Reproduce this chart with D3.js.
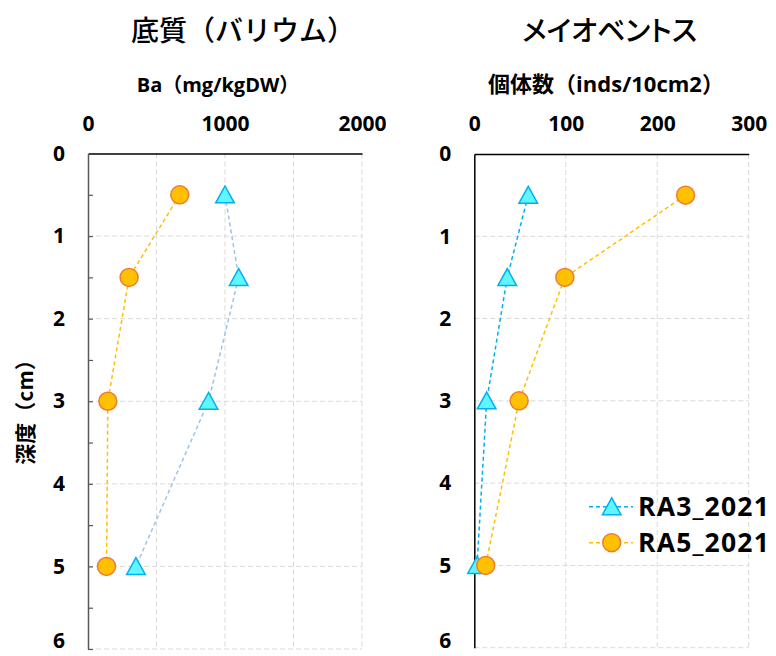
<!DOCTYPE html>
<html>
<head>
<meta charset="utf-8">
<script src="https://cdn.jsdelivr.net/npm/d3@7"></script>
<style>
  html, body { margin: 0; padding: 0; background: #fff; }
  svg { display: block; }
  text { fill: #000; }
</style>
</head>
<body>
<svg id="chart" width="776" height="656"></svg>
<script>
// Depth of each sample layer (cm)
const depths = [0.5, 1.5, 3, 5];
// Barium in sediment (mg/kgDW)
const baRA3 = [1000, 1100, 880, 350];
const baRA5 = [670, 300, 145, 135];
// Meiobenthos abundance (inds/10cm2)
const meioRA3 = [59, 36, 13.5, 3];
const meioRA5 = [231, 99, 49, 12.5];

const seriesNames = ["RA3_2021", "RA5_2021"];
const depthTicks = [0, 1, 2, 3, 4, 5, 6];
const baTicks = [0, 1000, 2000];
const baGrid = [500, 1000, 1500, 2000];
const meioTicks = [0, 100, 200, 300];
const meioGrid = [100, 200, 300];

const titles = ["底質（バリウム）", "メイオベントス"];
const subtitles = ["Ba（mg/kgDW）", "個体数（inds/10cm2）"];
const depthTitle = "深度（cm）";

const latin = "'Open Sans', 'Noto Sans CJK JP', sans-serif";
const cjk = "'Noto Sans CJK JP', sans-serif";

const svg = d3.select("#chart");

const panels = [
  {
    x: d3.scaleLinear().domain([0, 2000]).range([88, 362]),
    y: d3.scaleLinear().domain([0, 6]).range([153.5, 649]),
    ticks: baTicks, grid: baGrid,
    a: baRA3, b: baRA5,
    lineA: "#9dc3e6", lineB: "#ffc000",
    axisColor: "#595959", minorTicks: true,
    title: titles[0], titleX: 131, titleFeat: "normal",
    subtitle: subtitles[0], subX: 218, subSize: 20
  },
  {
    x: d3.scaleLinear().domain([0, 300]).range([474.3, 748.7]),
    y: d3.scaleLinear().domain([0, 6]).range([154, 647.7]),
    ticks: meioTicks, grid: meioGrid,
    a: meioRA3, b: meioRA5,
    lineA: "#00b0f0", lineB: "#ffc000",
    axisColor: "#000", minorTicks: false,
    title: titles[1], titleX: 522, titleFeat: "'palt' 1",
    subtitle: subtitles[1], subX: 606, subSize: 22
  }
];

// Triangle marker with its bounding box centred on the point
const triPath = "M0,-8.8L9.3,8L-9.3,8Z";

function drawTriangle(g, x, y) {
  g.append("path").attr("d", triPath)
    .attr("transform", `translate(${x},${y})`)
    .attr("fill", "#5ff6ff").attr("stroke", "#00b0f0").attr("stroke-width", 1.5);
}
function drawCircle(g, x, y) {
  g.append("circle").attr("cx", x).attr("cy", y).attr("r", 9)
    .attr("fill", "#ffc000").attr("stroke", "#ed7d31").attr("stroke-width", 1.5);
}

panels.forEach(p => {
  const g = svg.append("g");
  const [x0, x1] = p.x.range();
  const [y0, y1] = p.y.range();

  // Titles
  g.append("text").attr("x", p.titleX).attr("y", 40.5)
    .attr("font-family", cjk).attr("font-weight", 500).attr("font-size", 28)
    .style("font-feature-settings", p.titleFeat)
    .text(p.title);
  g.append("text").attr("x", p.subX).attr("y", 92).attr("text-anchor", "middle")
    .attr("font-family", latin).attr("font-weight", 700).attr("font-size", p.subSize)
    .text(p.subtitle);

  // Dashed gridlines
  g.append("g").selectAll("line").data(p.grid).join("line")
    .attr("x1", d => p.x(d)).attr("x2", d => p.x(d))
    .attr("y1", y0).attr("y2", y1)
    .attr("stroke", "#d9d9d9").attr("stroke-width", 1).attr("stroke-dasharray", "5,3");
  g.append("g").selectAll("line").data(depthTicks.slice(1)).join("line")
    .attr("x1", x0).attr("x2", x1)
    .attr("y1", d => p.y(d)).attr("y2", d => p.y(d))
    .attr("stroke", "#d9d9d9").attr("stroke-width", 1).attr("stroke-dasharray", "5,3");

  // Top value axis
  const top = g.append("g").attr("transform", `translate(0,${y0})`)
    .call(d3.axisTop(p.x).tickValues(p.ticks).tickSize(0).tickSizeOuter(0).tickPadding(23).tickFormat(d3.format("d")));
  top.select(".domain").attr("stroke", "#000").attr("stroke-width", 1.5);
  top.selectAll("text").attr("font-family", latin).attr("font-weight", 700).attr("font-size", 21);

  // Left depth axis
  const left = g.append("g").attr("transform", `translate(${x0},0)`)
    .call(d3.axisLeft(p.y).tickValues(depthTicks).tickSize(0).tickSizeOuter(0).tickPadding(23).tickFormat(d3.format("d")));
  left.select(".domain").attr("stroke", p.axisColor).attr("stroke-width", 1.5);
  left.selectAll("text").attr("font-family", latin).attr("font-weight", 700).attr("font-size", 21);
  // keep the deepest label inside the drawing
  left.selectAll(".tick").filter(d => d === 6).select("text")
    .attr("dy", "0em").attr("transform", `translate(0,${647.5 - p.y(6)})`);

  if (p.minorTicks) {
    const minor = g.append("g").attr("transform", `translate(${x0},0)`)
      .call(d3.axisLeft(p.y).tickValues(d3.range(0.5, 6.01, 0.5)).tickSize(-5).tickSizeOuter(0).tickFormat(""));
    minor.select(".domain").remove();
    minor.selectAll("line").attr("stroke", p.axisColor).attr("stroke-width", 1.2);
  }

  // Series lines
  const line = d3.line().x(d => p.x(d[0])).y(d => p.y(d[1]));
  g.append("path").datum(p.a.map((v, i) => [v, depths[i]])).attr("d", line)
    .attr("fill", "none").attr("stroke", p.lineA).attr("stroke-width", 1.5).attr("stroke-dasharray", "4,3");
  g.append("path").datum(p.b.map((v, i) => [v, depths[i]])).attr("d", line)
    .attr("fill", "none").attr("stroke", p.lineB).attr("stroke-width", 1.5).attr("stroke-dasharray", "4,3");

  // Markers
  p.a.forEach((v, i) => drawTriangle(g, p.x(v), p.y(depths[i])));
  p.b.forEach((v, i) => drawCircle(g, p.x(v), p.y(depths[i])));
});

// Depth axis title
svg.append("text").attr("transform", "translate(33,407) rotate(-90)")
  .attr("text-anchor", "middle")
  .attr("font-family", cjk).attr("font-weight", 700).attr("font-size", 21)
  .text(depthTitle);

// Legend
const legend = svg.append("g");
const legendRows = [
  { name: seriesNames[0], color: "#00b0f0", y: 506.7, marker: drawTriangle },
  { name: seriesNames[1], color: "#ffc000", y: 542.7, marker: drawCircle }
];
legendRows.forEach(r => {
  legend.append("line").attr("x1", 589).attr("x2", 633).attr("y1", r.y).attr("y2", r.y)
    .attr("stroke", r.color).attr("stroke-width", 1.5).attr("stroke-dasharray", "4,3");
  r.marker(legend, 611.7, r.y);
  legend.append("text").attr("x", 638).attr("y", r.y + 9.5)
    .attr("font-family", latin).attr("font-weight", 700).attr("font-size", 26.5)
    .attr("letter-spacing", 1.2)
    .text(r.name);
});
</script>
</body>
</html>
